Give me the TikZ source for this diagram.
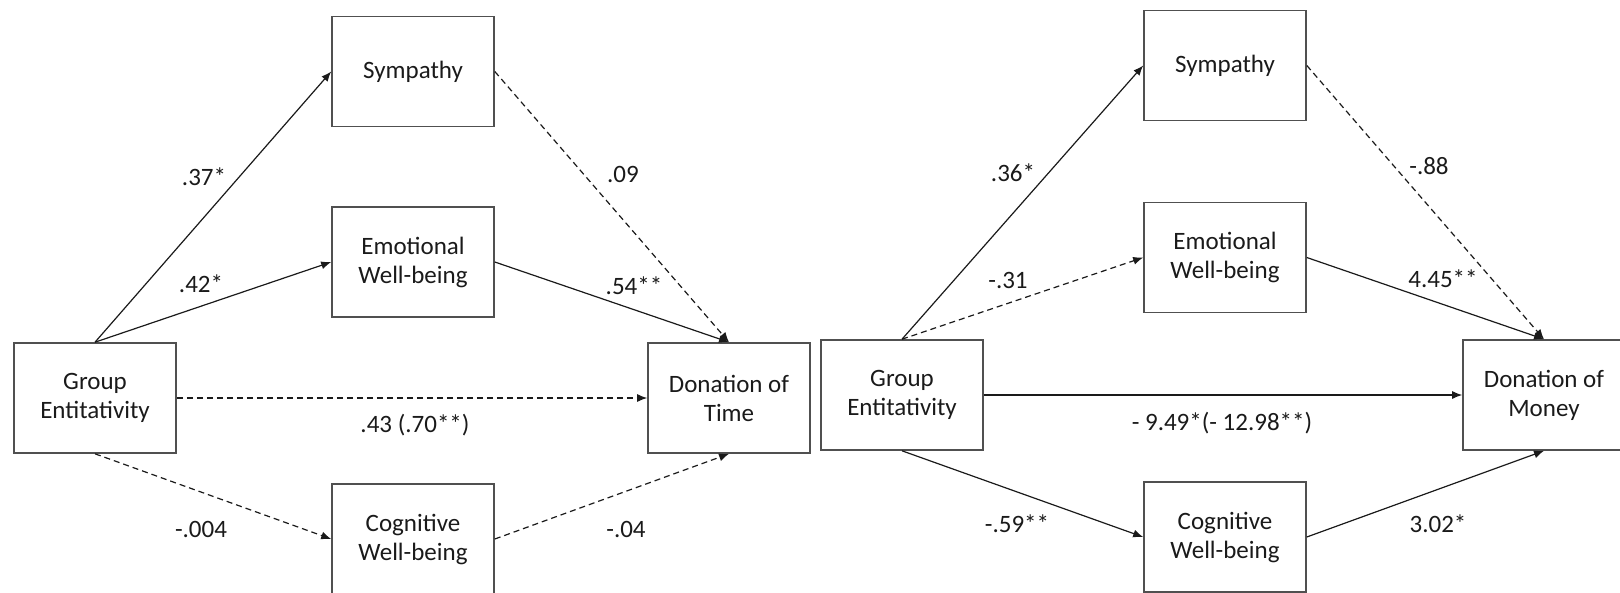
\documentclass[tikz,border=0pt]{standalone}
\usepackage{fontspec}
\setmainfont{Carlito}
\usepackage{tikz}
\usetikzlibrary{arrows.meta, positioning}

\definecolor{boxgray}{HTML}{505050}
\definecolor{inkgray}{HTML}{1A1A1A}

\begin{document}
\begin{tikzpicture}[
    x=1pt, y=-1pt,
    var/.style={
        rectangle,
        draw=boxgray,
        line width=1.6pt,
        minimum width=162pt,
        minimum height=110pt,
        align=center,
        text=inkgray,
        font=\fontsize{25}{29}\selectfont
    },
    coef/.style={font=\fontsize{25}{29}\selectfont, text=inkgray, inner sep=2pt},
    path/.style={draw=inkgray, line width=1.2pt, -{Latex[length=10pt,width=8pt]}},
    nsig/.style={path, dash pattern=on 6pt off 4pt}
]

\useasboundingbox (0,0) rectangle (1620,592);

% left model: donation of time
\node[var] (GE1) at (95,398) {Group\\Entitativity};
\node[var] (Sym1) at (413,71.5) {Sympathy};
\node[var] (Emo1) at (413,262) {Emotional\\Well-being};
\node[var] (Cog1) at (413,539) {Cognitive\\Well-being};
\node[var] (Time) at (729,398) {Donation of\\Time};

\draw[path] (GE1.north) -- (Sym1.west);
\draw[path] (GE1.north) -- (Emo1.west);
\draw[nsig] (GE1.south) -- (Cog1.west);
\draw[nsig] (GE1.east) -- (Time.west);
\draw[nsig] (Sym1.east) -- (Time.north);
\draw[path] (Emo1.east) -- (Time.north);
\draw[nsig] (Cog1.east) -- (Time.south);

\node[coef] (c1) at (204,177) {.37*};
\node[coef] (c2) at (623,174) {.09};
\node[coef] (c3) at (201,284) {.42*};
\node[coef] (c4) at (634,286) {.54**};
\node[coef] (c5) at (415,425) {.43 (.70**)};
\node[coef] (c6) at (201,529) {-.004};
\node[coef] (c7) at (626,529) {-.04};

% right model: donation of money
\node[var] (GE2) at (902,395) {Group\\Entitativity};
\node[var] (Sym2) at (1225,65.5) {Sympathy};
\node[var] (Emo2) at (1225,257.5) {Emotional\\Well-being};
\node[var] (Cog2) at (1225,537) {Cognitive\\Well-being};
\node[var] (Money) at (1544,395) {Donation of\\Money};

\draw[path] (GE2.north) -- (Sym2.west);
\draw[nsig] (GE2.north) -- (Emo2.west);
\draw[path] (GE2.south) -- (Cog2.west);
\draw[path] (GE2.east) -- (Money.west);
\draw[nsig] (Sym2.east) -- (Money.north);
\draw[path] (Emo2.east) -- (Money.north);
\draw[path] (Cog2.east) -- (Money.south);

\node[coef] (d1) at (1013,173) {.36*};
\node[coef] (d2) at (1429,166) {-.88};
\node[coef] (d3) at (1008,280) {-.31};
\node[coef] (d4) at (1443,279) {4.45**};
\node[coef] (d5) at (1222,423) {- 9.49*(- 12.98**)};
\node[coef] (d6) at (1017,524) {-.59**};
\node[coef] (d7) at (1438,524) {3.02*};

\end{tikzpicture}
\end{document}
